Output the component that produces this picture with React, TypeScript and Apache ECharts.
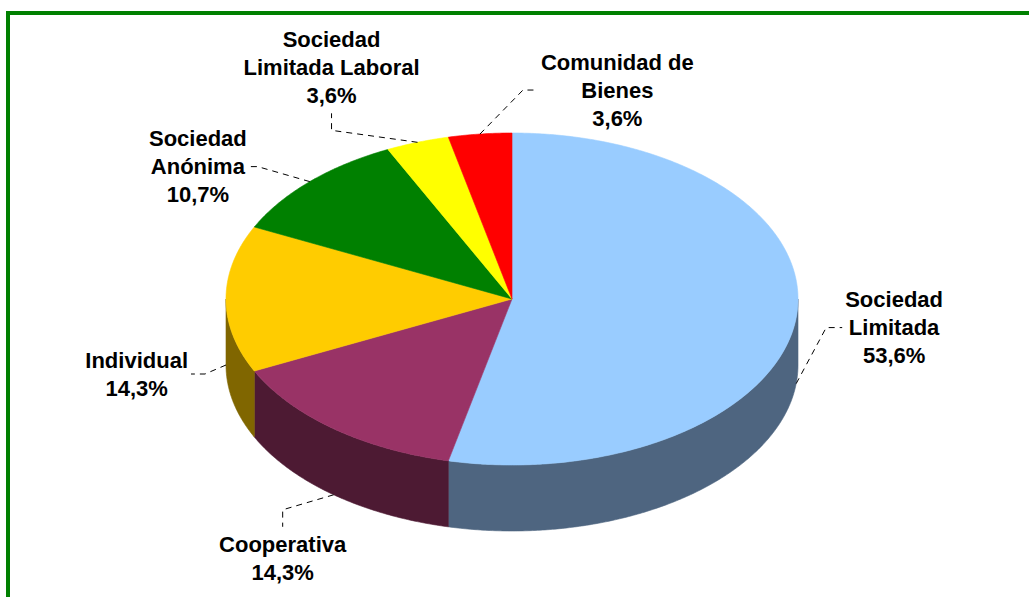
import { useEffect, useRef } from "react";
import * as echarts from "echarts";

// ---- data ----
const categories = [
  "Sociedad\nLimitada",
  "Cooperativa",
  "Individual",
  "Sociedad\nAnónima",
  "Sociedad\nLimitada Laboral",
  "Comunidad de\nBienes",
];
const values = [15, 4, 4, 3, 1, 1];

// ---- styles ----
const topColors = ["#99CCFF", "#993366", "#FFCC00", "#008000", "#FFFF00", "#FF0000"];
const sideColors = ["#4E6580", "#4D1A33", "#806600", "#004000", "#808000", "#800000"];

// ---- layout ----
const CX = 512;
const CY = 299;
const RX = 286;
const RY = 166;
const DEPTH = 66;
const leaderElbow = [[30, -56], [-51, 15], [-21, 9], [-52, -15], [-86, -12], [43, -44]];
const leaderEnd = [[16, 0], [0, 17], [-14, 0], [-8, 0], [0, -17], [15, 0]];
const labelSide = ["right", "bottom", "left", "left", "top", "right"];
const FONT = 'bold 22px "Liberation Sans", Arial, sans-serif';
const LINE_H = 28;

export default function App() {
  const ref = useRef<HTMLDivElement>(null);

  useEffect(() => {
    if (!ref.current) return;
    const chart = echarts.init(ref.current, undefined, { renderer: "svg" });
    const ctx = document.createElement("canvas").getContext("2d");
    const measure = (t: string) => {
      if (!ctx) return t.length * 11;
      ctx.font = FONT;
      return ctx.measureText(t).width;
    };

    const total = values.reduce((a, b) => a + b, 0);
    const starts: number[] = [];
    let acc = 0;
    values.forEach((v) => {
      starts.push(acc);
      acc += v;
    });

    const pt = (deg: number, dy = 0) => {
      const r = (deg * Math.PI) / 180;
      return [CX + RX * Math.sin(r), CY - RY * Math.cos(r) + dy];
    };
    const arc = (a: number, b: number, dy = 0) => {
      const n = Math.max(2, Math.ceil(Math.abs(b - a) / 0.5));
      const out: number[][] = [];
      for (let k = 0; k <= n; k++) out.push(pt(a + ((b - a) * k) / n, dy));
      return out;
    };

    const renderItem = (params: any, api: any) => {
      const i = params.dataIndex;
      const v = api.value(0);
      const s = (starts[i] / total) * 360;
      const e = s + (v / total) * 360;
      const children: any[] = [];

      // side wall (front half only)
      const a = Math.max(s, 90);
      const b = Math.min(e, 270);
      if (a < b) {
        const pts = arc(a, b).concat(arc(b, a, DEPTH));
        children.push({
          type: "polygon",
          shape: { points: pts },
          style: { fill: sideColors[i], stroke: sideColors[i], lineWidth: 0.6 },
        });
      }
      // top face
      children.push({
        type: "polygon",
        shape: { points: [[CX, CY]].concat(arc(s, e)) },
        style: { fill: topColors[i], stroke: topColors[i], lineWidth: 0.6 },
      });

      // leader line
      const mid = (s + e) / 2;
      const front = Math.cos((mid * Math.PI) / 180) < 0.01;
      const anchor = pt(mid, front ? DEPTH : 0);
      const elbow = [anchor[0] + leaderElbow[i][0], anchor[1] + leaderElbow[i][1]];
      const end = [elbow[0] + leaderEnd[i][0], elbow[1] + leaderEnd[i][1]];
      children.push({
        type: "polyline",
        shape: { points: [anchor, elbow, end] },
        style: { stroke: "#000", lineWidth: 1, lineDash: [6, 5], fill: "none" },
      });

      // label
      const pct = ((v / total) * 100).toFixed(1).replace(".", ",") + "%";
      const text = categories[i] + "\n" + pct;
      const w = Math.max(...text.split("\n").map(measure));
      let x = end[0];
      let y = end[1];
      let va = "middle";
      const side = labelSide[i];
      if (side === "right") x = end[0] + 3 + w / 2;
      else if (side === "left") x = end[0] - 3 - w / 2;
      else if (side === "bottom") {
        y = end[1] + 4;
        va = "top";
      } else {
        y = end[1] - 4;
        va = "bottom";
      }
      children.push({
        type: "text",
        x,
        y,
        style: {
          text,
          font: FONT,
          fill: "#000",
          align: "center",
          verticalAlign: va,
          lineHeight: LINE_H,
        },
      });

      return { type: "group", children };
    };

    chart.setOption({
      animation: false,
      backgroundColor: "#ffffff",
      graphic: [
        {
          type: "rect",
          z: 100,
          shape: { x: 8, y: 13, width: 1100, height: 700 },
          style: { fill: "none", stroke: "#008000", lineWidth: 4 },
        },
      ],
      series: [
        {
          type: "custom",
          coordinateSystem: "none",
          silent: true,
          data: values,
          renderItem,
        },
      ],
    });

    return () => chart.dispose();
  }, []);

  return (
    <div
      ref={ref}
      style={{ position: "fixed", left: 0, top: 0, width: 1029, height: 597 }}
    />
  );
}
